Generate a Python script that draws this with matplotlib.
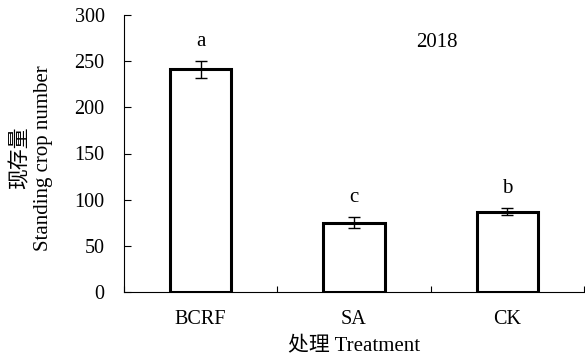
import matplotlib
matplotlib.use("Agg")
import matplotlib.pyplot as plt
from matplotlib.ticker import FixedLocator

plt.rcParams['font.family'] = ['Liberation Serif', 'Noto Sans CJK SC']
plt.rcParams['font.size'] = 14.5

categories = ["BCRF", "SA", "CK"]
means = [241, 75, 87]
errors = [9, 6, 4]
letters = ["a", "c", "b"]
year = "2018"

fig = plt.figure(figsize=(5.85, 3.6), dpi=100)
ax = fig.add_axes([124 / 585, (360 - 292) / 360, (584 - 124) / 585, (292 - 15) / 360])

x = list(range(len(categories)))
ax.bar(x, means, width=0.4, facecolor="white", edgecolor="black", linewidth=2.2, zorder=2)
ax.errorbar(x, means, yerr=errors, fmt="none", ecolor="black", elinewidth=1.0,
            capsize=4.5, capthick=1.0, zorder=3)
for xi, m, e, lab in zip(x, means, errors, letters):
    ax.annotate(lab, (xi, m + e), xytext=(0, 7), textcoords="offset points",
                ha="center", va="bottom", fontsize=15)

ax.text(0.68, 0.90, year, transform=ax.transAxes, ha="center", va="center", fontsize=15)

ax.set_xlim(-0.5, len(categories) - 0.5)
ax.set_ylim(0, 300)
ax.set_yticks(range(0, 301, 50))
ax.set_xticks(x)
ax.set_xticklabels(categories)
ax.xaxis.set_minor_locator(FixedLocator([i + 0.5 for i in range(-1, len(categories))]))
ax.tick_params(axis="x", which="major", length=0, pad=13)
ax.tick_params(axis="x", which="minor", direction="in", length=4, width=0.8)
ax.tick_params(axis="y", direction="in", length=5, width=0.8, pad=14)

for side in ("top", "right"):
    ax.spines[side].set_visible(False)
for side in ("left", "bottom"):
    ax.spines[side].set_linewidth(0.8)

ax.set_xlabel("处理 Treatment", fontsize=15, labelpad=6)
ax.set_ylabel("现存量\nStanding crop number", fontsize=15, linespacing=1.25)
ax.yaxis.set_label_coords(-0.155, 0.484)

fig.savefig("out.png", dpi=100)
